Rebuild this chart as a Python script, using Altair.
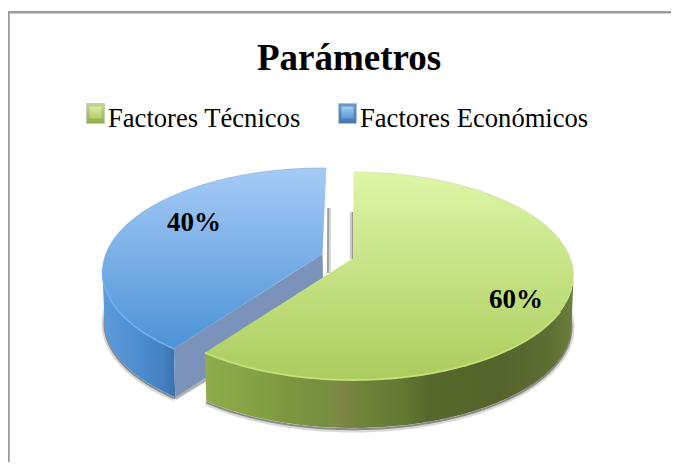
import altair as alt
import numpy as np
import pandas as pd

categories = ["Factores Técnicos", "Factores Económicos"]
values = [60, 40]
title_text = "Parámetros"

W, H = 663, 454
CX, CY, A, B = 353.5, 276.0, 220.0, 104.0
DEPTH, A2, B2 = 50.0, 218.0, 102.0
APEX_UP = 18.0
EXPLODE = (-31.0, -4.0)
SQUASH = 0.793


def warp(theta):
    r = np.radians(theta)
    t = np.degrees(np.arctan2(np.sin(r), np.cos(r) * SQUASH))
    return t % 360


split = warp(values[0] / sum(values) * 360)


def rim(t, dx=0.0, dy=0.0):
    r = np.radians(np.asarray(t, float))
    return np.c_[CX + dx + A * np.sin(r), CY + dy - B * np.cos(r)]


def floor(t, dx=0.0, dy=0.0, grow=0.0):
    r = np.radians(np.asarray(t, float))
    return np.c_[CX + dx + (A2 + grow) * np.sin(r), CY + dy + DEPTH - (B2 + grow) * np.cos(r)]


def band(points):
    p = np.asarray(points, float)
    lo, hi = int(p[:, 0].argmin()), int(p[:, 0].argmax())
    p = np.roll(p, -lo, axis=0)
    hi = (hi - lo) % len(p)
    a = p[: hi + 1]
    b = np.vstack([p[hi:], p[:1]])[::-1]
    a = a + np.c_[np.arange(len(a)) * 1e-5, np.zeros(len(a))]
    b = b + np.c_[np.arange(len(b)) * 1e-5, np.zeros(len(b))]
    xs = np.unique(np.r_[a[:, 0], b[:, 0]])
    ya, yb = np.interp(xs, a[:, 0], a[:, 1]), np.interp(xs, b[:, 0], b[:, 1])
    return pd.DataFrame({"x": xs, "y": np.minimum(ya, yb), "y2": np.maximum(ya, yb)})


X = alt.Scale(domain=[8, 8 + W], range=[0, W])
Y = alt.Scale(domain=[8, 8 + H], range=[0, H])


def hgrad(stops, x0, x1):
    return alt.LinearGradient(gradient="linear", x1=0, x2=1, y1=0, y2=0,
                              stops=[alt.GradientStop(color=c, offset=(x - x0) / (x1 - x0)) for x, c in stops])


def vgrad(c0, c1):
    return alt.LinearGradient(gradient="linear", x1=0, x2=0, y1=0, y2=1,
                              stops=[alt.GradientStop(color=c0, offset=0), alt.GradientStop(color=c1, offset=1)])


def area(points, fill):
    return alt.Chart(band(points)).mark_area(fill=fill, interpolate="linear", clip=False).encode(
        x=alt.X("x:Q", scale=X, axis=None),
        y=alt.Y("y:Q", scale=Y, axis=None),
        y2="y2:Q",
    )


def line(points, color, width, opacity=1.0):
    p = np.asarray(points, float)
    df = pd.DataFrame({"x": p[:, 0], "y": p[:, 1], "i": np.arange(len(p))})
    return alt.Chart(df).mark_line(color=color, strokeWidth=width, opacity=opacity, interpolate="linear").encode(
        x=alt.X("x:Q", scale=X, axis=None),
        y=alt.Y("y:Q", scale=Y, axis=None),
        order="i:Q",
    )


def text(items, size, weight="normal", align="left"):
    df = pd.DataFrame(items, columns=["x", "y", "t"])
    return alt.Chart(df).mark_text(font="Liberation Serif", fontSize=size, fontWeight=weight,
                                   align=align, baseline="alphabetic", color="#000000").encode(
        x=alt.X("x:Q", scale=X, axis=None),
        y=alt.Y("y:Q", scale=Y, axis=None),
        text="t:N",
    )


def rect(x0, y0, x1, y1, fill, edge=None):
    df = pd.DataFrame({"x": [x0], "x2": [x1], "y": [y0], "y2": [y1]})
    style = {"fill": fill}
    if edge:
        style.update(stroke=edge, strokeWidth=1)
    return alt.Chart(df).mark_rect(**style).encode(
        x=alt.X("x:Q", scale=X, axis=None), x2="x2:Q",
        y=alt.Y("y:Q", scale=Y, axis=None), y2="y2:Q",
    )


def swatch(x0, y0, x1, y1, outer, inner, edge):
    return (rect(x0, y0, x1, y1, vgrad(*outer), edge)
            + rect(x0 + 3, y0 + 3, x1 - 3, y1 - 5, vgrad(*inner)))


ts_green = np.linspace(0, split, 160)
ts_blue = np.r_[np.linspace(split, 360, 100), 361.0]
dx, dy = EXPLODE

green_top = np.vstack([[[CX - 0.05, CY - APEX_UP]], rim(ts_green)])
blue_top = np.vstack([[[CX + dx, CY + dy - APEX_UP]], rim(ts_blue, dx, dy)])

tg = np.linspace(split, 90, 90)
green_wall = np.vstack([rim(tg), floor(tg[::-1])])
tb = np.linspace(split, 270, 50)
blue_wall = np.vstack([rim(tb, dx, dy), floor(tb[::-1], dx, dy)])

bc, bf = rim([split], dx, dy)[0], floor([split], dx, dy)[0]
bax, bay = CX + dx, CY + dy - APEX_UP
blue_face = [(bax, bay), tuple(bc), tuple(bf), (bax + 1, bay + DEPTH)]
face_shadow = [tuple(bf + [0, 1.2]), (bf[0] + 45, bf[1] - 26)]

frame_left = [(8.6, 11), (8.6, 470)]
frame_top = [(8, 12.2), (679, 12.2)]

layers = [
    line(frame_left, "#9b9b9b", 2.4),
    line(frame_top, "#9b9b9b", 2.4),
    text([(349, 70, title_text)], 37, "bold", "center"),
    swatch(86.5, 103.5, 104.5, 123.5, ("#C4D596", "#93AE50"), ("#DCEBA0", "#B6CF68"), "#C5CCB5"),
    text([(108, 126.5, categories[0])], 26.6),
    swatch(338.5, 103.5, 356.5, 123.5, ("#6C9BD0", "#4276AE"), ("#A4CEF2", "#5E98D6"), "#B4C2D6"),
    text([(360, 126.5, categories[1])], 26.6),
    line(floor(np.linspace(split, 300, 50), dx, dy + 1.5, 1), "#666666", 4, 0.25),
    line(floor(np.linspace(split, 300, 50), dx, dy + 1.2), "#666666", 2, 0.7),
    line(face_shadow, "#666666", 3, 0.5),
    line([(329.5, 208), (329.2, 273)], "#8f8f8f", 3.4, 0.35),
    line([(328.2, 208), (327.8, 273)], "#8a8a8a", 1.8, 0.8),
    line([(351.4, 212), (351.4, 259)], "#8f8f8f", 3.2, 0.4),
    line([(352.6, 212), (352.6, 259)], "#8a8a8a", 1.6, 0.8),
    area(blue_wall, hgrad([(103, "#5C9CDE"), (140, "#4E8ECE"), (165, "#4280BF"), (177, "#3A72AC")], 103, 177)),
    area(blue_face, "#7B93BA"),
    area(blue_top, vgrad("#A6CBF6", "#4C93D6")),
    line(rim(np.linspace(split, 272, 50), dx, dy), "#6FB2F6", 1.6),
    line(rim(np.linspace(272, 361, 60), dx, dy), "#7FA6D6", 0.8, 0.7),
    line(floor(np.linspace(60, split, 110), 0, 1.5, 1), "#666666", 4, 0.25),
    line(floor(np.linspace(60, split, 110), 0, 1.2), "#666666", 2, 0.7),
    area(green_wall, hgrad([(207, "#8FAD4D"), (260, "#84A043"), (300, "#7A9440"), (330, "#778E40"),
                            (345, "#7D8544"), (362, "#6F833A"), (400, "#647A33"), (430, "#56682B"),
                            (500, "#55642A"), (550, "#5D6E33"), (574, "#6C803C")], 207, 574)),
    area(green_top, vgrad("#DEF6A7", "#ABCC5D")),
    line(rim(np.linspace(110, split, 70)), "#C6E07C", 1.8),
    line(rim(np.linspace(0, 90, 60)), "#B8C4A0", 0.6, 0.6),
    text([(194, 231, f"{values[1]}%"), (516, 308, f"{values[0]}%")], 27, "bold", "center"),
]

chart = alt.layer(*layers).properties(
    width=W, height=H, padding=0, background="#ffffff",
    autosize=alt.AutoSizeParams(type="none"),
).configure_view(stroke=None, clip=False)
chart.save("out.html", embed_options={"renderer": "svg", "actions": False})
